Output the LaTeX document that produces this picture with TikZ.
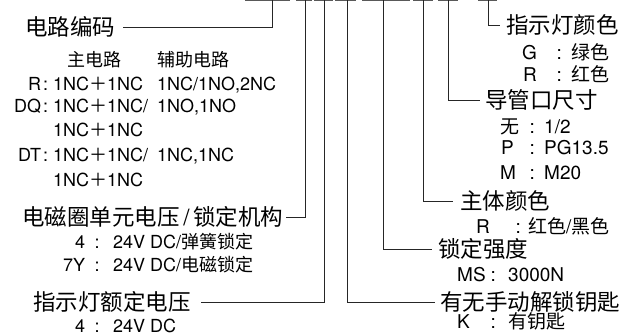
\documentclass[tikz,border=0pt]{standalone}
\usepackage{fontspec}
\setmainfont{TeX Gyre Heros}
\newfontfamily\cjk{Noto Sans CJK SC}
\newcommand\zh[1]{{\cjk #1}}
\newcommand\kvr[5]{\makebox[#1pt][l]{#2}\makebox[#3pt][c]{:}\hspace{#4pt}#5}
\newcommand\kvl[5]{\makebox[#1pt][r]{#2}\makebox[#3pt][c]{:}\hspace{#4pt}#5}
\tikzset{
 head/.style={anchor=west, inner sep=0pt, font=\fontsize{22.5}{24}\selectfont, text height=17.3pt, text depth=0pt},
 subl/.style={anchor=west, inner sep=0pt, font=\fontsize{18}{20}\selectfont, text height=13.5pt, text depth=0pt},
 subr/.style={anchor=west, inner sep=0pt, font=\fontsize{19}{21}\selectfont, text height=14pt, text depth=0pt},
 conn/.style={draw=black!85, line width=0.8pt},
 bar/.style={draw=black!65, line width=1.2pt},
}
\begin{document}
\begin{tikzpicture}[x=1pt,y=-1pt]
\useasboundingbox (0,0) rectangle (622,336);
% top bars
\foreach \a/\b in {245/290,296/312,314/333,335/356,362/410,413/433,438/458,478/497}
  \draw[bar] (\a,0.6) -- (\b,0.6);
\coordinate (t1) at (272,0);
\coordinate (t2) at (305.5,0);
\coordinate (t3) at (324.5,0);
\coordinate (t4) at (347,0);
\coordinate (t5) at (383,0);
\coordinate (t6) at (423,0);
\coordinate (t7) at (448.5,0);
\coordinate (t8) at (488,0);
% headings
\node[head] (h1) at (25,27) {\zh{电路编码}};
\node[head] (h2) at (22,217) {\zh{电磁圈单元电压}\,/\,\zh{锁定机构}};
\node[head] (h3) at (33,302) {\zh{指示灯额定电压}};
\node[head] (h4) at (440,302) {\zh{有无手动解锁钥匙}};
\node[head] (h5) at (438,249) {\zh{锁定强度}};
\node[head] (h6) at (460,201) {\zh{主体颜色}};
\node[head] (h7) at (485,100) {\zh{导管口尺寸}};
\node[head] (h8) at (506,25) {\zh{指示灯颜色}};
% connectors
\draw[conn] (t1) |- ([xshift=8pt]h1.east);
\draw[conn] (t2) |- ([xshift=2pt]h2.east);
\draw[conn] (t3) |- ([xshift=10pt]h3.east);
\draw[conn] (t4) |- ([xshift=-5pt]h4.west);
\draw[conn] (t5) |- ([xshift=-6pt]h5.west);
\draw[conn] (t6) |- ([xshift=-7pt]h6.west);
\draw[conn] (t7) |- ([xshift=-5pt]h7.west);
\draw[conn] (t8) |- ([xshift=-6pt]h8.west);
% left details
\node[subl] (l0) at (67,60) {\makebox[90pt][l]{\zh{主电路}}\zh{辅助电路}};
\node[subl] (l1) at (5,84) {\kvl{36}{R}{9}{3}{\makebox[104pt][l]{1NC\zh{＋}1NC}1NC/1NO,2NC}};
\node[subl] (l2) at (5,106) {\kvl{36}{DQ}{9}{3}{\makebox[104pt][l]{1NC\zh{＋}1NC/}1NO,1NO}};
\node[subl] (l3) at (53,130) {1NC\zh{＋}1NC};
\node[subl] (l4) at (5,155) {\kvl{36}{DT}{9}{3}{\makebox[104pt][l]{1NC\zh{＋}1NC/}1NC,1NC}};
\node[subl] (l5) at (53,180) {1NC\zh{＋}1NC};
\node[subl] (l6) at (60,242) {\kvl{25}{4}{24}{4}{24V DC/\zh{弹簧锁定}}};
\node[subl] (l7) at (60,265) {\kvl{25}{7Y}{24}{4}{24V DC/\zh{电磁锁定}}};
\node[subl] (l8) at (60,325.5) {\kvl{25}{4}{24}{4}{24V DC}};
% right details
\node[subr] (r1) at (522,53) {\kvr{31}{G}{12}{6}{\zh{绿色}}};
\node[subr] (r2) at (523,75) {\kvr{30}{R}{12}{6}{\zh{红色}}};
\node[subr] (r3) at (500,127) {\kvr{26}{\zh{无}}{12}{6}{1/2}};
\node[subr] (r4) at (501,148) {\kvr{25}{P}{12}{6}{PG13.5}};
\node[subr] (r5) at (500,173) {\kvr{26}{M}{12}{6}{M20}};
\node[subr] (r6) at (476,227) {\kvr{36}{R}{12}{4}{\zh{红色}/\zh{黑色}}};
\node[subr] (r7) at (457,275) {\kvr{30}{MS}{12}{9}{3000N}};
\node[subr] (r8) at (457,322) {\kvr{30}{K}{12}{9}{\zh{有钥匙}}};
\end{tikzpicture}
\end{document}
